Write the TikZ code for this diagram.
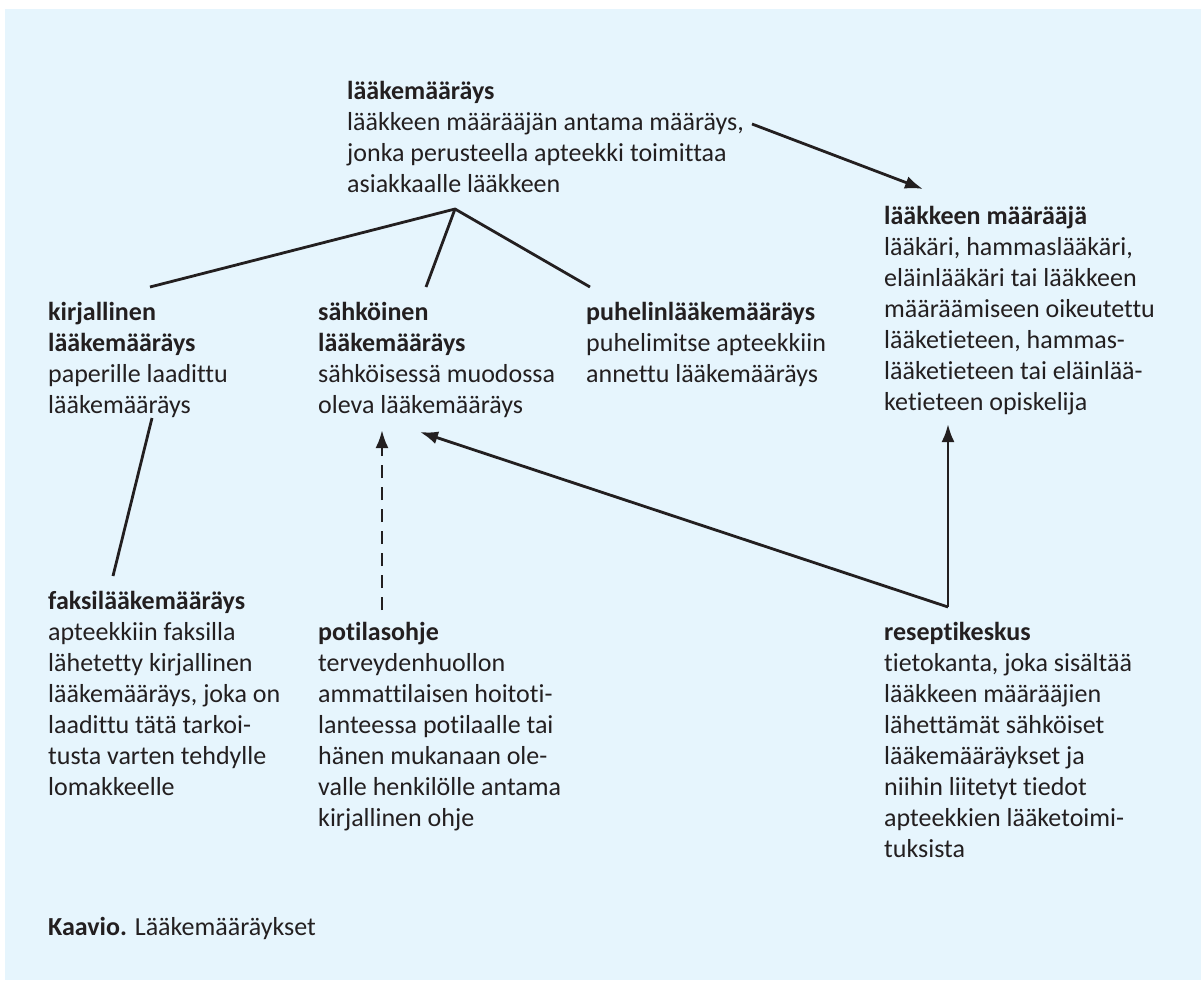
\documentclass[tikz,border=0pt]{standalone}
\usepackage{fontspec}
\setmainfont{Carlito}[Ligatures=NoCommon]
\usetikzlibrary{arrows.meta}
\definecolor{bg}{HTML}{E6F5FD}
\definecolor{ink}{HTML}{231F20}
\tikzset{
  txt/.style={anchor=north west, align=left, inner sep=0pt, text=ink,
    font={\fontsize{26}{31}\selectfont}},
  conn/.style={draw=ink, line width=2.8pt},
  arr/.style={conn, -{Latex[length=18pt,width=13pt]}},
  dasharr/.style={arr, dash pattern=on 13pt off 9pt}
}
\begin{document}
\begin{tikzpicture}[x=1pt,y=-1pt]
\useasboundingbox (0,0) rectangle (1201,980);
\fill[bg] (5,9) rectangle (1201,980);

\node[txt] (top) at (347,81) {\textbf{lääkemääräys}\\lääkkeen määrääjän antama määräys,\\jonka perusteella apteekki toimittaa\\asiakkaalle lääkkeen};
\node[txt] (maar) at (884,206) {\textbf{lääkkeen määrääjä}\\lääkäri, hammaslääkäri,\\eläinlääkäri tai lääkkeen\\määräämiseen oikeutettu\\lääketieteen, hammas-\\lääketieteen tai eläinlää-\\ketieteen opiskelija};
\node[txt] (kirj) at (48,302) {\textbf{kirjallinen}\\\textbf{lääkemääräys}\\paperille laadittu\\lääkemääräys};
\node[txt] (sahk) at (318,302) {\textbf{sähköinen}\\\textbf{lääkemääräys}\\sähköisessä muodossa\\oleva lääkemääräys};
\node[txt] (puh) at (586,302) {\textbf{puhelinlääkemääräys}\\puhelimitse apteekkiin\\annettu lääkemääräys};
\node[txt] (faksi) at (48,591) {\textbf{faksilääkemääräys}\\apteekkiin faksilla\\lähetetty kirjallinen\\lääkemääräys, joka on\\laadittu tätä tarkoi-\\tusta varten tehdylle\\lomakkeelle};
\node[txt] (pot) at (318,622) {\textbf{potilasohje}\\terveydenhuollon\\ammattilaisen hoitoti-\\lanteessa potilaalle tai\\hänen mukanaan ole-\\valle henkilölle antama\\kirjallinen ohje};
\node[txt] (res) at (884,622) {\textbf{reseptikeskus}\\tietokanta, joka sisältää\\lääkkeen määrääjien\\lähettämät sähköiset\\lääkemääräykset ja\\niihin liitetyt tiedot\\apteekkien lääketoimi-\\tuksista};
\node[txt] (cap) at (48,917) {\textbf{Kaavio.} Lääkemääräykset};

\coordinate (apex) at (455,209);
\coordinate (kirjT) at (150,287);
\coordinate (sahkT) at (426,287);
\coordinate (puhT) at (590,287);
\coordinate (topR) at (752,124);
\coordinate (maarT) at (923,189);
\coordinate (kirjB) at (152,418);
\coordinate (faksiT) at (113,576);
\coordinate (potT) at (382,610);
\coordinate (sahkB) at (382,430);
\coordinate (resT) at (948,607);
\coordinate (maarB) at (948,424);
\coordinate (sahkR) at (420,432);

\draw[conn] (kirjT) -- (apex) -- (puhT);
\draw[conn] (apex) -- (sahkT);
\draw[arr] (topR) -- (maarT);
\draw[conn] (kirjB) -- (faksiT);
\draw[dasharr] (potT) -- (sahkB);
\draw[arr] (resT) -- (maarB);
\draw[arr] (resT) -- (sahkR);
\end{tikzpicture}
\end{document}
